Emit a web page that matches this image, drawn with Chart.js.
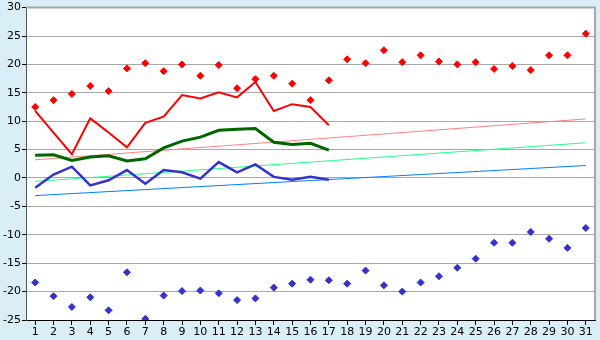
<!DOCTYPE html>
<html>
<head>
<meta charset="utf-8">
<script src="https://cdn.jsdelivr.net/npm/chart.js@4.4.1/dist/chart.umd.min.js"></script>
<style>
  body { margin: 0; background: #d9eef6; }
  canvas { display: block; }
</style>
</head>
<body>
<canvas id="myChart" width="600" height="340"></canvas>
<script>
// 날짜 (1 ~ 31)
const days = ['1','2','3','4','5','6','7','8','9','10','11','12','13','14','15','16',
              '17','18','19','20','21','22','23','24','25','26','27','28','29','30','31'];

// 최고 기록 (빨간 점)
const recordHigh = [12.5, 13.7, 14.8, 16.2, 15.3, 19.3, 20.2, 18.8, 20.0, 18.0, 19.9, 15.8, 17.4, 18.0, 16.6, 13.7,
                    17.2, 20.9, 20.2, 22.5, 20.4, 21.6, 20.5, 20.0, 20.4, 19.2, 19.7, 19.0, 21.6, 21.6, 25.4];
// 최저 기록 (파란 점)
const recordLow = [-18.4, -20.8, -22.7, -21.0, -23.3, -16.6, -24.8, -20.7, -19.9, -19.8, -20.3, -21.5, -21.2, -19.3, -18.6, -17.9,
                   -18.0, -18.6, -16.3, -18.9, -20.0, -18.4, -17.3, -15.8, -14.2, -11.4, -11.4, -9.5, -10.7, -12.3, -8.8];

// 올해 최고 / 평균 / 최저 (1 ~ 17일)
const dayMax = [11.8, 8.0, 4.2, 10.5, 8.0, 5.4, 9.7, 10.8, 14.6, 14.0, 15.1, 14.2, 16.9, 11.8, 13.0, 12.5, 9.3];
const dayMean = [4.0, 4.1, 3.1, 3.7, 3.9, 3.0, 3.4, 5.3, 6.5, 7.2, 8.4, 8.6, 8.7, 6.3, 5.9, 6.1, 4.9];
const dayMin = [-1.7, 0.6, 2.0, -1.3, -0.4, 1.4, -1.0, 1.4, 1.0, -0.1, 2.8, 1.0, 2.4, 0.2, -0.3, 0.2, -0.3];

// 평년 추세선 (1일, 31일 값만)
const trendMax = [3.2, 10.4];
const trendMean = [-0.6, 6.2];
const trendMin = [-3.1, 2.2];

const yTicks = [-25, -20, -15, -10, -5, 0, 5, 10, 15, 20, 25, 30];

// 추세선 데이터: 처음과 끝만 값이 있고 나머지는 비워 둠
function trendData(ends) {
    const arr = days.map(() => null);
    arr[0] = ends[0];
    arr[days.length - 1] = ends[1];
    return arr;
}

const plotBg = {
    id: 'plotBg',
    beforeDraw(chart) {
        const { ctx, chartArea: a } = chart;
        ctx.save();
        ctx.fillStyle = '#ffffff';
        ctx.fillRect(a.left, a.top, a.right - a.left, a.bottom - a.top);
        ctx.restore();
    },
    afterDatasetsDraw(chart) {
        const { ctx, chartArea: a } = chart;
        ctx.save();
        ctx.strokeStyle = '#a8a8a8';
        ctx.lineWidth = 2;
        ctx.beginPath();
        ctx.moveTo(a.left, a.top);
        ctx.lineTo(a.right, a.top);
        ctx.lineTo(a.right, a.bottom);
        ctx.stroke();
        ctx.restore();
    }
};

const font = { family: 'DejaVu Sans', size: 11 };

const lineSet = (data, color, width, order) => ({
    type: 'line', data: data, borderColor: color, backgroundColor: color,
    borderWidth: width, pointRadius: 0, tension: 0, fill: false, order: order
});
const trendSet = (ends, color) => ({
    type: 'line', data: trendData(ends), borderColor: color, borderWidth: 1,
    pointRadius: 0, spanGaps: true, fill: false, order: 10
});
const dotSet = (data, color) => ({
    type: 'line', data: data, showLine: false, borderColor: color, backgroundColor: color,
    pointStyle: 'rectRot', pointRadius: 3.5, borderWidth: 1, order: 1
});

new Chart(document.getElementById('myChart'), {
    type: 'line',
    data: {
        labels: days,
        datasets: [
            dotSet(recordHigh, '#ff0000'),
            dotSet(recordLow, '#3333cc'),
            lineSet(dayMax, '#ff0000', 2, 2),
            lineSet(dayMean, '#006600', 3, 3),
            lineSet(dayMin, '#3333cc', 2.5, 4),
            trendSet(trendMax, '#ff8080'),
            trendSet(trendMean, '#22ff88'),
            trendSet(trendMin, '#0080ff')
        ]
    },
    options: {
        responsive: false,
        animation: false,
        layout: { padding: { top: 5, right: 5, left: 0, bottom: 0 } },
        plugins: { legend: { display: false }, tooltip: { enabled: false } },
        scales: {
            x: {
                offset: true,
                grid: { drawOnChartArea: false, tickLength: 5, tickColor: '#000' },
                border: { color: '#000', width: 1 },
                ticks: { color: '#000', font: font, padding: 1, maxRotation: 0, autoSkip: false },
                afterFit: s => { s.height = 20; }
            },
            y: {
                min: -25, max: 30,
                grid: { color: '#a8a8a8', tickLength: 4, tickColor: '#000' },
                border: { color: '#555', width: 1 },
                ticks: { color: '#000', font: font, padding: 1,
                         callback: v => yTicks.includes(v) ? v : null, stepSize: 5 },
                afterFit: s => { s.width = 26; }
            }
        }
    },
    plugins: [plotBg]
});
</script>
</body>
</html>
